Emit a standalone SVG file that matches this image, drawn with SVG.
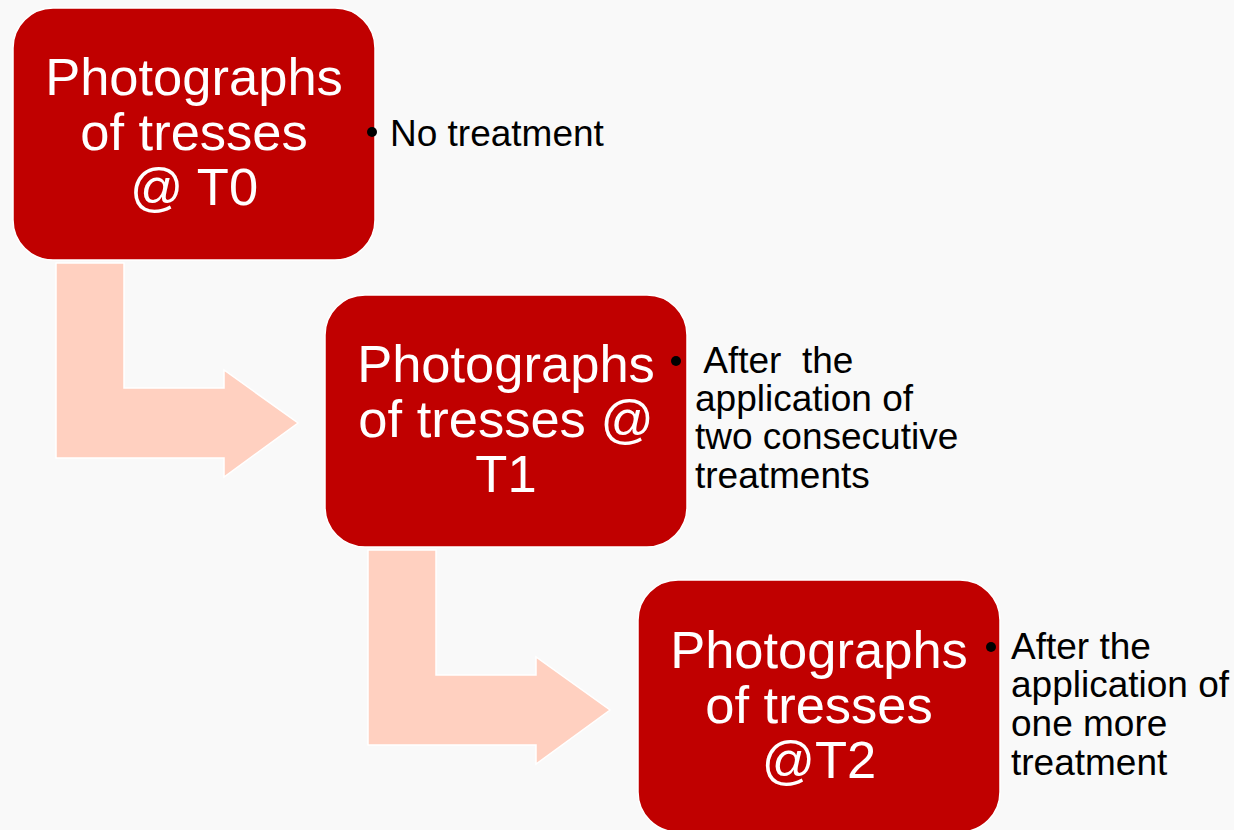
<svg xmlns="http://www.w3.org/2000/svg" width="1234" height="830" viewBox="0 0 1234 830">
<style>
.box{fill:#C00000;stroke:#FFFFFF;stroke-width:1.5}
.arrow{fill:#FFD0C0;stroke:#FFFFFF;stroke-width:1.5}
.t{font-family:"Liberation Sans",Arial,sans-serif;font-size:52.5px;fill:#FFFFFF;text-anchor:middle}
.b{font-family:"Liberation Sans",Arial,sans-serif;font-size:37px;fill:#000000;white-space:pre}
.dot{fill:#000000}
</style>
<rect x="0" y="0" width="1234" height="830" fill="#F9F9F9"/>
<g id="connectors">
<polygon class="arrow" points="56,263 124,263 124,388 224,388 224,370 298,423 224,477 224,458 56,458"/>
<polygon class="arrow" points="368,550 436,550 436,675 536,675 536,657 610,710 536,764 536,745 368,745"/>
</g>
<g id="node-t0">
<rect class="box" x="13" y="8" width="362" height="252" rx="40" ry="40"/>
<text class="t" x="194" y="95">Photographs</text>
<text class="t" x="194" y="150">of tresses</text>
<text class="t" x="194" y="205">@ T0</text>
</g>
<g id="note-t0">
<circle class="dot" cx="372" cy="132" r="5"/>
<text class="b" x="390" y="146">No treatment</text>
</g>
<g id="node-t1">
<rect class="box" x="325" y="295" width="362" height="252" rx="40" ry="40"/>
<text class="t" x="506" y="382">Photographs</text>
<text class="t" x="506" y="437">of tresses @</text>
<text class="t" x="506" y="492">T1</text>
</g>
<g id="note-t1">
<circle class="dot" cx="676" cy="361" r="5"/>
<text class="b" x="695" y="373" xml:space="preserve"> After  the</text>
<text class="b" x="695" y="411">application of</text>
<text class="b" x="695" y="449">two consecutive</text>
<text class="b" x="695" y="488">treatments</text>
</g>
<g id="node-t2">
<rect class="box" x="638" y="580" width="362" height="252" rx="40" ry="40"/>
<text class="t" x="819" y="668">Photographs</text>
<text class="t" x="819" y="723">of tresses</text>
<text class="t" x="819" y="778">@T2</text>
</g>
<g id="note-t2">
<circle class="dot" cx="991" cy="647" r="5"/>
<text class="b" x="1011" y="659">After the</text>
<text class="b" x="1011" y="697">application of</text>
<text class="b" x="1011" y="736">one more</text>
<text class="b" x="1011" y="775">treatment</text>
</g>
</svg>
